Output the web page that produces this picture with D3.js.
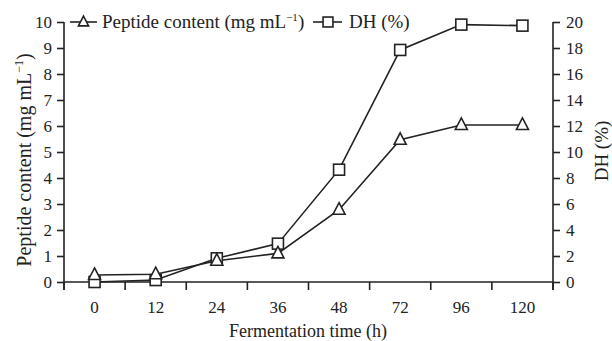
<!DOCTYPE html>
<html>
<head>
<meta charset="utf-8">
<script src="https://cdn.jsdelivr.net/npm/d3@7"></script>
<style>
body { margin: 0; background: #fff; }
text { font-family: "Liberation Serif", "Times New Roman", serif; fill: #222; }
</style>
</head>
<body>
<svg width="612" height="341"></svg>
<script>
var hours = ["0", "12", "24", "36", "48", "72", "96", "120"];
var peptide = [0.27, 0.3, 0.82, 1.1, 2.78, 5.47, 6.04, 6.04];
var dh = [0.0, 0.15, 1.82, 2.95, 8.64, 17.85, 19.8, 19.72];
var leftTicks = [0, 1, 2, 3, 4, 5, 6, 7, 8, 9, 10];
var rightTicks = [0, 2, 4, 6, 8, 10, 12, 14, 16, 18, 20];

var ink = "#222";
var svg = d3.select("svg");

var x = d3.scaleBand().domain(hours).range([64, 553]).padding(0);
var yL = d3.scaleLinear().domain([0, 10]).range([282, 22]);
var yR = d3.scaleLinear().domain([0, 20]).range([282, 22]);

function cx(d, i) { return x(hours[i]) + x.bandwidth() / 2; }

// x axis line + boundary ticks
var gx = svg.append("g");
gx.append("line")
    .attr("x1", x.range()[0]).attr("x2", x.range()[1])
    .attr("y1", yL(0)).attr("y2", yL(0))
    .attr("stroke", ink).attr("stroke-width", 1.6);
var bounds = hours.map(function (h) { return x(h); }).concat([x.range()[1]]);
gx.selectAll("line.tk").data(bounds).enter().append("line")
    .attr("class", "tk")
    .attr("x1", function (d) { return d; }).attr("x2", function (d) { return d; })
    .attr("y1", yL(0)).attr("y2", yL(0) + 8)
    .attr("stroke", ink).attr("stroke-width", 1.6);
gx.selectAll("text").data(hours).enter().append("text")
    .attr("x", function (d) { return x(d) + x.bandwidth() / 2; })
    .attr("y", 313)
    .attr("text-anchor", "middle")
    .attr("font-size", 17)
    .text(function (d) { return d; });

// left axis
var gl = svg.append("g").attr("transform", "translate(64,0)")
    .call(d3.axisLeft(yL).tickValues(leftTicks).tickSize(7).tickPadding(5).tickSizeOuter(0));
// right axis
var gr = svg.append("g").attr("transform", "translate(553,0)")
    .call(d3.axisRight(yR).tickValues(rightTicks).tickSize(7).tickPadding(6).tickSizeOuter(0));
[gl, gr].forEach(function (g) {
    g.select(".domain").remove();
    g.selectAll(".tick line").attr("stroke", ink).attr("stroke-width", 1.6);
    g.selectAll(".tick text").attr("font-size", 17).attr("font-family", "Liberation Serif").attr("fill", ink);
    g.append("line").attr("x1", 0).attr("x2", 0)
        .attr("y1", yL(10)).attr("y2", yL(0) + 8)
        .attr("stroke", ink).attr("stroke-width", 1.6);
});

// axis titles
svg.append("text")
    .attr("x", 308).attr("y", 337)
    .attr("text-anchor", "middle").attr("font-size", 18)
    .text("Fermentation time (h)");

var lt = svg.append("text")
    .attr("transform", "translate(31,160) rotate(-90)")
    .attr("text-anchor", "middle").attr("font-size", 20);
lt.append("tspan").text("Peptide content (mg mL");
lt.append("tspan").attr("dy", -8).attr("font-size", 12).text("\u22121");
lt.append("tspan").attr("dy", 8).text(")");

svg.append("text")
    .attr("transform", "translate(608,151) rotate(-90)")
    .attr("text-anchor", "middle").attr("font-size", 19)
    .text("DH (%)");

// markers
function tri(g, px, py, s) {
    g.append("path")
        .attr("d", "M" + px + "," + (py - 7 * s) + "L" + (px + 6 * s) + "," + (py + 4.5 * s) + "L" + (px - 6 * s) + "," + (py + 4.5 * s) + "Z")
        .attr("fill", "#fff").attr("stroke", ink).attr("stroke-width", 1.6);
}
function sq(g, px, py, s) {
    g.append("rect")
        .attr("x", px - 5.5 * s).attr("y", py - 5.5 * s).attr("width", 11 * s).attr("height", 11 * s)
        .attr("fill", "#fff").attr("stroke", ink).attr("stroke-width", 1.6);
}

var lineP = d3.line().x(cx).y(function (d) { return yL(d); });
var lineD = d3.line().x(cx).y(function (d) { return yR(d); });

svg.append("path").datum(peptide).attr("d", lineP)
    .attr("fill", "none").attr("stroke", ink).attr("stroke-width", 1.6);
svg.append("path").datum(dh).attr("d", lineD)
    .attr("fill", "none").attr("stroke", ink).attr("stroke-width", 1.6);

var gm = svg.append("g");
dh.forEach(function (d, i) { sq(gm, cx(d, i), yR(d), 1); });
peptide.forEach(function (d, i) { tri(gm, cx(d, i), yL(d), 1); });

// legend
var lg = svg.append("g");
lg.append("line").attr("x1", 70).attr("x2", 97).attr("y1", 22).attr("y2", 22)
    .attr("stroke", ink).attr("stroke-width", 1.6);
tri(lg, 83.5, 22, 0.85);
var t1 = lg.append("text").attr("x", 102).attr("y", 28).attr("font-size", 19);
t1.append("tspan").text("Peptide content (mg mL");
t1.append("tspan").attr("dy", -7).attr("font-size", 11).text("\u22121");
t1.append("tspan").attr("dy", 7).text(")");

lg.append("line").attr("x1", 313).attr("x2", 342).attr("y1", 22).attr("y2", 22)
    .attr("stroke", ink).attr("stroke-width", 1.6);
sq(lg, 328, 22, 0.9);
lg.append("text").attr("x", 349).attr("y", 28).attr("font-size", 19).text("DH (%)");
</script>
</body>
</html>
